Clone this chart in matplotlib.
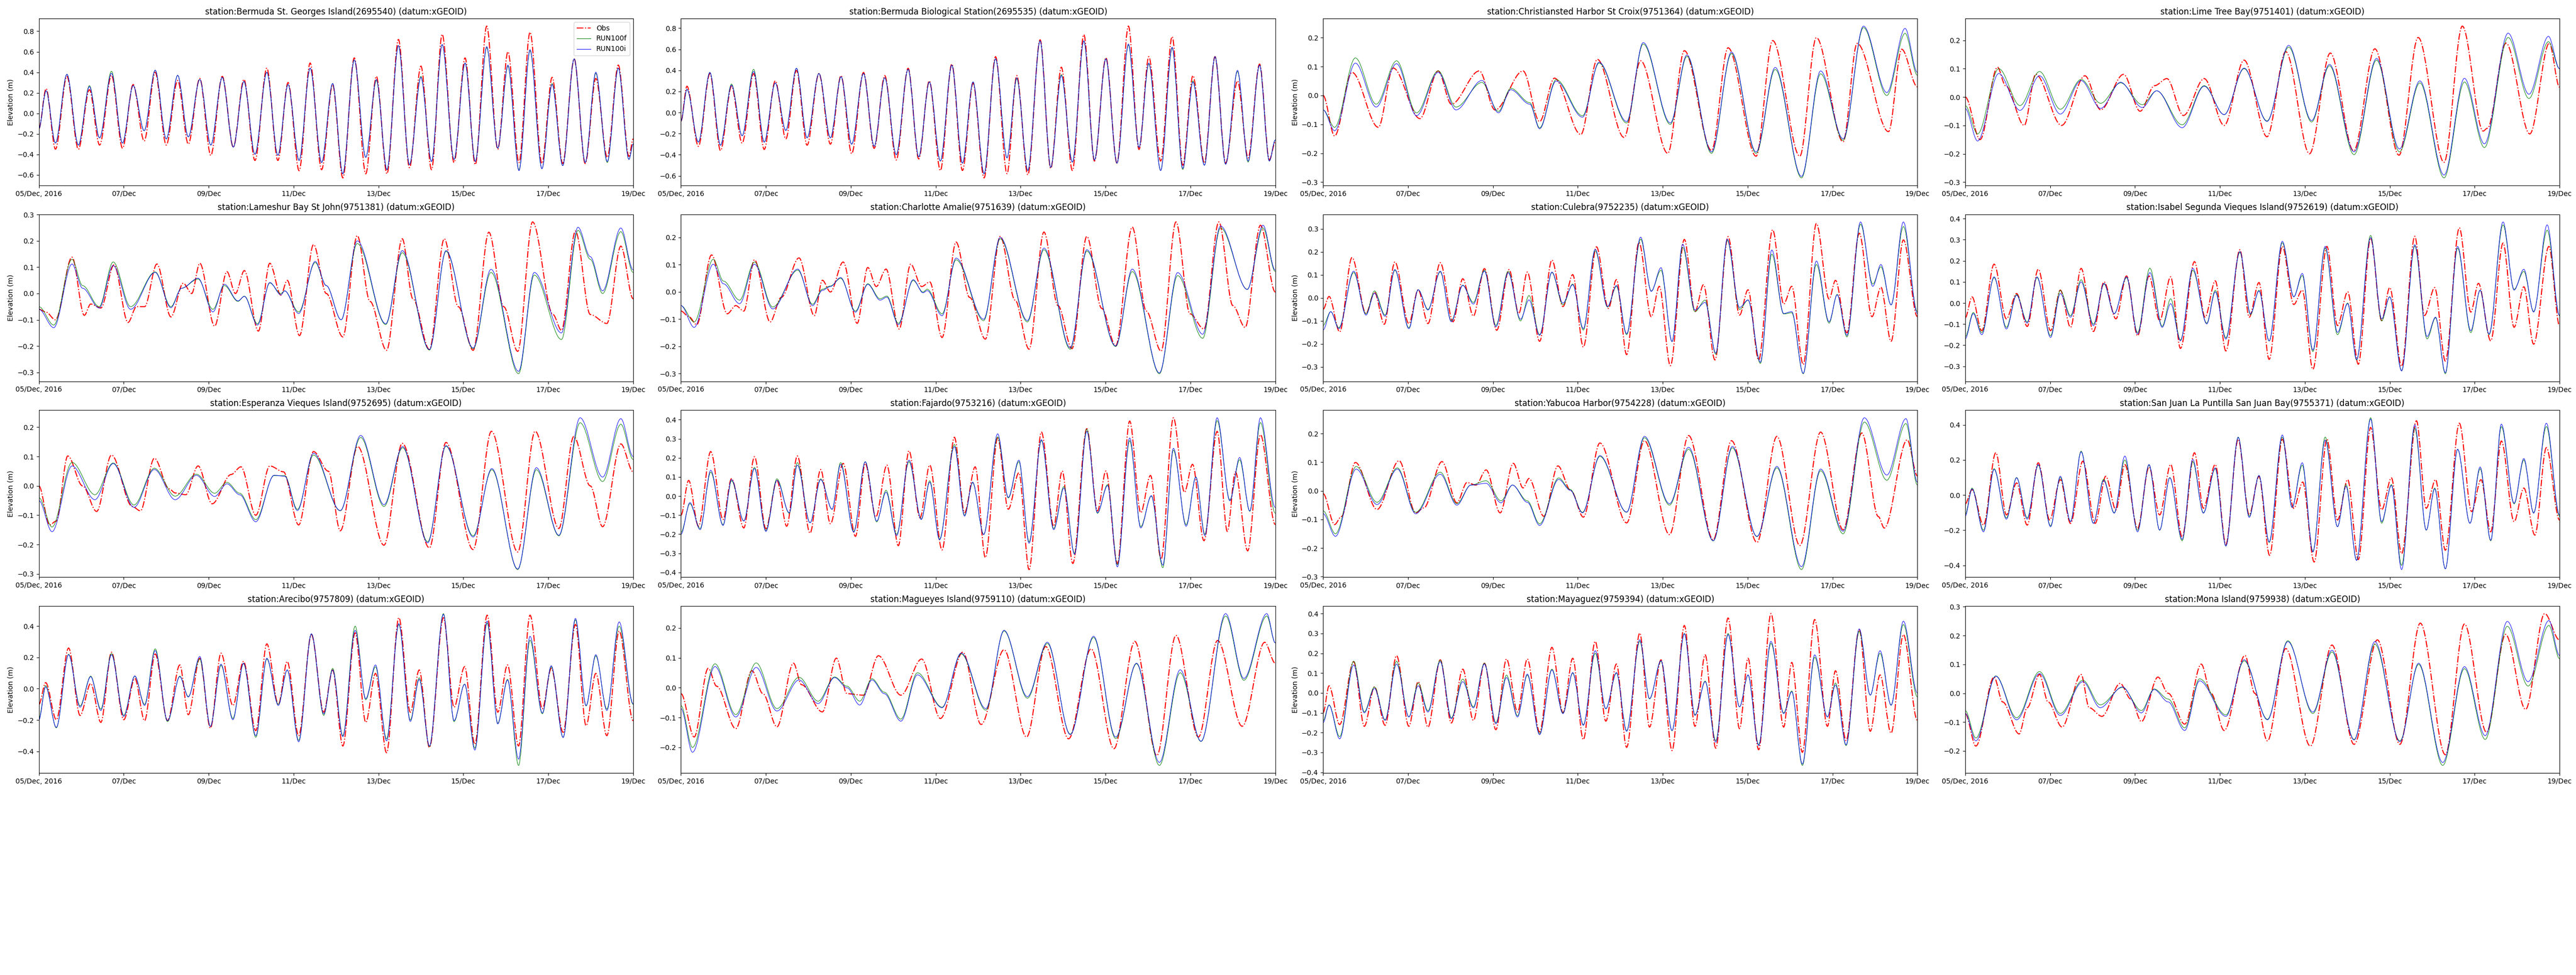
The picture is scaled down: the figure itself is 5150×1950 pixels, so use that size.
"""Water level comparison at 16 NOAA / Bermuda gauges, 05-19 Dec 2016: Obs vs RUN100f / RUN100i."""
import numpy as np, matplotlib
matplotlib.use("Agg")
import matplotlib.pyplot as plt
import matplotlib.dates as mdates
from matplotlib.ticker import FuncFormatter
from matplotlib.path import Path
from matplotlib.patches import PathPatch
from matplotlib.lines import Line2D

START = np.datetime64("2016-12-05T00:00")
END = np.datetime64("2016-12-19T00:00")

TITLES = [
    "station:Bermuda St. Georges Island(2695540) (datum:xGEOID)",
    "station:Bermuda Biological Station(2695535) (datum:xGEOID)",
    "station:Christiansted Harbor St Croix(9751364) (datum:xGEOID)",
    "station:Lime Tree Bay(9751401) (datum:xGEOID)",
    "station:Lameshur Bay St John(9751381) (datum:xGEOID)",
    "station:Charlotte Amalie(9751639) (datum:xGEOID)",
    "station:Culebra(9752235) (datum:xGEOID)",
    "station:Isabel Segunda Vieques Island(9752619) (datum:xGEOID)",
    "station:Esperanza Vieques Island(9752695) (datum:xGEOID)",
    "station:Fajardo(9753216) (datum:xGEOID)",
    "station:Yabucoa Harbor(9754228) (datum:xGEOID)",
    "station:San Juan La Puntilla San Juan Bay(9755371) (datum:xGEOID)",
    "station:Arecibo(9757809) (datum:xGEOID)",
    "station:Magueyes Island(9759110) (datum:xGEOID)",
    "station:Mayaguez(9759394) (datum:xGEOID)",
    "station:Mona Island(9759938) (datum:xGEOID)",
]

# turning points: time in days after 05/Dec 00:00, elevation in m
# --- Bermuda St. Georges
T_OBS_01 = [0, 0.17, 0.39, 0.66, 0.93, 1.19, 1.43, 1.71, 1.97, 2.22, 2.48, 2.74, 3.00, 3.27, 3.52, 3.79,
            4.05, 4.32, 4.58, 4.83, 5.09, 5.37, 5.63, 5.87, 6.13, 6.39, 6.66, 6.92, 7.16, 7.43, 7.70, 7.95,
            8.20, 8.47, 8.73, 9.00, 9.25, 9.50, 9.78, 10.04, 10.28, 10.55, 10.81, 11.05, 11.31, 11.57,
            11.85, 12.09, 12.34, 12.61, 12.87, 13.12, 13.39, 13.65, 13.90, 14.0]
OBS_01 = [-0.15, 0.24, -0.35, 0.36, -0.35, 0.23, -0.31, 0.37, -0.34, 0.28, -0.27, 0.40, -0.31, 0.32, -0.30,
          0.34, -0.41, 0.36, -0.33, 0.33, -0.46, 0.44, -0.46, 0.30, -0.56, 0.49, -0.55, 0.28, -0.63, 0.54,
          -0.59, 0.36, -0.59, 0.72, -0.53, 0.46, -0.55, 0.77, -0.48, 0.54, -0.50, 0.85, -0.35, 0.60, -0.48,
          0.79, -0.49, 0.35, -0.49, 0.53, -0.49, 0.34, -0.43, 0.47, -0.42, -0.25]
T_MOD_01 = T_OBS_01
F_01 = [-0.15, 0.22, -0.29, 0.38, -0.31, 0.27, -0.24, 0.41, -0.29, 0.27, -0.17, 0.42, -0.25, 0.37, -0.23,
        0.33, -0.31, 0.35, -0.33, 0.31, -0.40, 0.40, -0.41, 0.28, -0.46, 0.44, -0.48, 0.29, -0.59, 0.52,
        -0.43, 0.32, -0.55, 0.66, -0.50, 0.36, -0.47, 0.67, -0.45, 0.49, -0.47, 0.64, -0.34, 0.46, -0.55,
        0.61, -0.54, 0.29, -0.51, 0.53, -0.48, 0.39, -0.48, 0.44, -0.45, -0.30]
I_01 = [-0.15, 0.22, -0.29, 0.38, -0.31, 0.26, -0.24, 0.39, -0.29, 0.27, -0.17, 0.42, -0.25, 0.37, -0.23,
        0.33, -0.31, 0.35, -0.33, 0.31, -0.40, 0.40, -0.41, 0.28, -0.46, 0.44, -0.48, 0.29, -0.59, 0.52,
        -0.43, 0.33, -0.55, 0.66, -0.50, 0.35, -0.47, 0.67, -0.45, 0.49, -0.47, 0.65, -0.34, 0.47, -0.56,
        0.62, -0.54, 0.28, -0.51, 0.53, -0.48, 0.40, -0.47, 0.44, -0.45, -0.30]
# --- Bermuda Biological Station
T_OBS_02 = [0, 0.14, 0.41, 0.68, 0.93, 1.19, 1.44, 1.71, 1.96, 2.22, 2.47, 2.72, 2.97, 3.25, 3.52, 3.77,
            4.02, 4.30, 4.55, 4.80, 5.07, 5.35, 5.60, 5.85, 6.11, 6.38, 6.63, 6.88, 7.14, 7.41, 7.68, 7.91,
            8.17, 8.46, 8.71, 8.96, 9.22, 9.49, 9.74, 10.01, 10.27, 10.54, 10.79, 11.02, 11.30, 11.57,
            11.82, 12.06, 12.33, 12.58, 12.83, 13.11, 13.36, 13.63, 13.86, 14.0]
OBS_02 = [-0.08, 0.25, -0.32, 0.37, -0.36, 0.25, -0.29, 0.37, -0.35, 0.30, -0.25, 0.40, -0.31, 0.37, -0.30,
          0.35, -0.39, 0.38, -0.34, 0.35, -0.45, 0.42, -0.44, 0.30, -0.55, 0.46, -0.55, 0.28, -0.62, 0.53,
          -0.58, 0.35, -0.59, 0.69, -0.53, 0.43, -0.55, 0.74, -0.46, 0.52, -0.48, 0.82, -0.35, 0.53, -0.46,
          0.72, -0.50, 0.35, -0.48, 0.53, -0.48, 0.30, -0.43, 0.46, -0.45, -0.28]
T_MOD_02 = T_OBS_02
F_02 = [-0.08, 0.22, -0.28, 0.38, -0.31, 0.27, -0.22, 0.41, -0.28, 0.28, -0.17, 0.42, -0.24, 0.37, -0.24,
        0.34, -0.30, 0.37, -0.32, 0.33, -0.40, 0.41, -0.42, 0.29, -0.46, 0.45, -0.48, 0.29, -0.58, 0.51,
        -0.43, 0.32, -0.55, 0.68, -0.52, 0.36, -0.47, 0.68, -0.45, 0.51, -0.48, 0.64, -0.33, 0.46, -0.55,
        0.61, -0.54, 0.30, -0.50, 0.53, -0.49, 0.39, -0.47, 0.45, -0.46, -0.26]
I_02 = [-0.08, 0.22, -0.28, 0.38, -0.31, 0.26, -0.22, 0.39, -0.28, 0.28, -0.17, 0.42, -0.24, 0.37, -0.24,
        0.34, -0.30, 0.37, -0.32, 0.33, -0.40, 0.41, -0.42, 0.29, -0.46, 0.45, -0.48, 0.29, -0.58, 0.51,
        -0.43, 0.33, -0.55, 0.68, -0.52, 0.35, -0.47, 0.68, -0.45, 0.51, -0.48, 0.65, -0.33, 0.47, -0.55,
        0.62, -0.53, 0.29, -0.50, 0.53, -0.49, 0.40, -0.46, 0.45, -0.46, -0.26]
# --- Christiansted Harbor
T_OBS_03 = [0, 0.27, 0.68, 1.30, 1.65, 2.28, 2.71, 3.02, 3.68, 4.05, 4.71, 5.10, 5.45, 6.07, 6.46, 7.09,
            7.48, 8.12, 8.51, 9.15, 9.54, 10.20, 10.59, 11.23, 11.62, 12.25, 12.58, 13.32, 13.63, 14.0]
OBS_03 = [0.0, -0.14, 0.08, -0.11, 0.095, -0.08, 0.085, -0.03, 0.085, -0.05, 0.085, -0.09, 0.06, -0.135,
          0.125, -0.145, 0.12, -0.20, 0.155, -0.19, 0.165, -0.21, 0.19, -0.21, 0.20, -0.16, 0.18, -0.125,
          0.16, 0.03]
T_MOD_03 = [0, 0.27, 0.76, 1.25, 1.73, 2.20, 2.71, 3.13, 3.74, 4.13, 4.42, 4.87, 5.10, 5.49, 6.11, 6.50,
            7.15, 7.54, 8.18, 8.57, 9.15, 9.62, 10.20, 10.65, 11.27, 11.72, 12.25, 12.73, 13.28, 13.71, 14.0]
F_03 = [-0.05, -0.11, 0.13, -0.03, 0.12, -0.06, 0.085, -0.04, 0.045, -0.055, 0.025, -0.025, -0.112, 0.055,
        -0.07, 0.112, -0.095, 0.178, -0.10, 0.135, -0.20, 0.145, -0.20, 0.09, -0.285, 0.075, -0.155, 0.235,
        0.0, 0.215, 0.07]
I_03 = [-0.05, -0.122, 0.112, -0.04, 0.11, -0.07, 0.08, -0.05, 0.052, -0.06, 0.02, -0.03, -0.115, 0.05,
        -0.075, 0.115, -0.09, 0.183, -0.095, 0.14, -0.195, 0.15, -0.195, 0.097, -0.28, 0.085, -0.15, 0.24,
        0.01, 0.232, 0.08]
# --- Lime Tree Bay
T_OBS_04 = [0, 0.35, 0.76, 0.95, 1.39, 1.66, 2.27, 2.82, 3.19, 3.73, 4.12, 4.46, 4.75, 5.14, 5.63, 6.10,
            6.57, 7.11, 7.55, 8.11, 8.60, 9.15, 9.65, 10.22, 10.67, 11.28, 11.71, 12.20, 12.30, 12.74, 13.30,
            13.76, 14.0]
OBS_04 = [0.0, -0.15, 0.105, 0.04, -0.10, 0.08, -0.10, 0.075, -0.045, 0.08, -0.05, 0.04, 0.065, -0.065,
          0.065, -0.10, 0.13, -0.14, 0.16, -0.20, 0.155, -0.19, 0.17, -0.205, 0.21, -0.23, 0.25, -0.12,
          -0.11, 0.19, -0.13, 0.19, 0.035]
T_MOD_04 = [0, 0.29, 0.79, 1.29, 1.75, 2.24, 2.73, 3.19, 3.66, 4.17, 4.51, 5.11, 5.63, 6.10, 6.57, 7.11,
            7.62, 8.16, 8.58, 9.16, 9.69, 10.23, 10.71, 11.28, 11.76, 12.23, 12.79, 13.28, 13.74, 14.0]
F_04 = [-0.03, -0.13, 0.10, -0.03, 0.09, -0.043, 0.062, -0.022, 0.05, -0.027, 0.022, -0.098, 0.04, -0.062,
        0.10, -0.084, 0.176, -0.088, 0.11, -0.203, 0.13, -0.193, 0.05, -0.285, 0.053, -0.178, 0.21, -0.005,
        0.195, 0.10]
I_04 = [-0.04, -0.155, 0.083, -0.047, 0.075, -0.06, 0.058, -0.04, 0.052, -0.037, 0.022, -0.108, 0.038,
        -0.062, 0.102, -0.086, 0.182, -0.083, 0.115, -0.193, 0.136, -0.183, 0.057, -0.275, 0.066, -0.165,
        0.225, 0.01, 0.214, 0.10]
# --- Lameshur Bay
T_OBS_05 = [0, 0.16, 0.39, 0.78, 1.07, 1.22, 1.46, 1.77, 2.10, 2.30, 2.49, 2.78, 3.11, 3.40, 3.60, 3.79,
            4.14, 4.43, 4.63, 4.84, 5.17, 5.44, 5.70, 5.85, 6.14, 6.47, 6.77, 7.16, 7.50, 7.80, 8.19, 8.56,
            8.81, 9.20, 9.55, 9.88, 10.23, 10.60, 10.95, 11.28, 11.63, 12.11, 12.31, 12.64, 12.99, 13.38,
            13.71, 14.0]
OBS_05 = [-0.06, -0.07, -0.10, 0.138, -0.083, -0.04, -0.055, 0.109, -0.11, -0.05, -0.05, 0.112, -0.089,
          0.039, 0.0, 0.115, -0.124, 0.083, 0.0, 0.087, -0.143, 0.115, -0.006, 0.05, -0.16, 0.186, 0.0,
          -0.165, 0.22, -0.03, -0.216, 0.208, -0.02, -0.213, 0.208, -0.05, -0.216, 0.233, -0.05, -0.22,
          0.272, -0.08, -0.14, 0.237, -0.08, -0.114, 0.18, -0.02]
T_MOD_05 = [0, 0.35, 0.78, 1.03, 1.42, 1.75, 2.16, 2.74, 3.11, 3.36, 3.75, 4.10, 4.37, 4.69, 4.84, 5.15,
            5.44, 5.70, 5.79, 6.12, 6.51, 6.77, 7.12, 7.50, 8.17, 8.56, 9.20, 9.59, 10.23, 10.65, 11.30,
            11.67, 12.31, 12.70, 12.99, 13.28, 13.71, 14.0]
F_05 = [-0.05, -0.12, 0.13, 0.03, -0.05, 0.12, -0.05, 0.082, -0.05, 0.02, 0.055, -0.06, 0.03, -0.03, -0.01,
        -0.115, 0.04, 0.0, 0.01, -0.07, 0.118, 0.03, -0.10, 0.19, -0.118, 0.155, -0.215, 0.16, -0.21, 0.08,
        -0.305, 0.07, -0.175, 0.24, 0.13, 0.0, 0.235, 0.08]
I_05 = [-0.06, -0.13, 0.112, 0.02, -0.055, 0.106, -0.06, 0.08, -0.054, 0.02, 0.058, -0.07, 0.035, -0.028,
        -0.011, -0.12, 0.042, -0.005, 0.01, -0.076, 0.122, 0.03, -0.10, 0.20, -0.115, 0.163, -0.213, 0.163,
        -0.207, 0.092, -0.296, 0.08, -0.15, 0.252, 0.14, 0.01, 0.249, 0.09]
# --- Charlotte Amalie
T_OBS_06 = [0, 0.18, 0.37, 0.72, 1.09, 1.29, 1.48, 1.73, 2.10, 2.36, 2.78, 3.14, 3.33, 3.52, 3.82, 4.15,
            4.40, 4.60, 4.83, 5.14, 5.41, 5.67, 5.86, 6.15, 6.48, 6.80, 7.17, 7.52, 7.87, 8.20, 8.55, 8.88,
            9.21, 9.56, 9.91, 10.24, 10.63, 10.96, 11.31, 11.66, 11.99, 12.32, 12.67, 13.00, 13.29, 13.65,
            14.0]
OBS_06 = [-0.07, -0.09, -0.12, 0.136, -0.08, -0.05, -0.07, 0.118, -0.11, -0.02, 0.125, -0.087, 0.043, 0.0,
          0.11, -0.115, 0.09, 0.02, 0.084, -0.136, 0.102, 0.02, 0.037, -0.167, 0.183, -0.02, -0.173, 0.204,
          -0.03, -0.21, 0.22, -0.05, -0.208, 0.204, -0.06, -0.198, 0.238, -0.07, -0.217, 0.257, -0.08,
          -0.136, 0.257, -0.05, -0.13, 0.245, 0.0]
T_MOD_06 = [0, 0.31, 0.76, 1.00, 1.38, 1.73, 2.16, 2.75, 3.10, 3.33, 3.52, 3.76, 4.11, 4.40, 4.69, 4.85,
            5.12, 5.47, 5.70, 5.80, 6.15, 6.48, 7.13, 7.52, 8.16, 8.55, 9.17, 9.56, 10.24, 10.63, 11.27,
            11.70, 12.29, 12.71, 13.34, 13.71, 14.0]
F_06 = [-0.05, -0.11, 0.12, 0.04, -0.03, 0.11, -0.055, 0.08, -0.045, 0.01, 0.022, 0.05, -0.07, 0.03, -0.025,
        -0.015, -0.115, 0.042, 0.0, 0.01, -0.08, 0.118, -0.105, 0.195, -0.11, 0.155, -0.21, 0.15, -0.20,
        0.075, -0.30, 0.06, -0.17, 0.235, 0.01, 0.235, 0.075]
I_06 = [-0.05, -0.13, 0.102, 0.03, -0.043, 0.102, -0.062, 0.084, -0.05, 0.006, 0.02, 0.053, -0.074, 0.028,
        -0.03, -0.019, -0.12, 0.045, -0.003, 0.005, -0.087, 0.124, -0.10, 0.20, -0.105, 0.161, -0.205,
        0.155, -0.198, 0.084, -0.297, 0.071, -0.155, 0.242, 0.009, 0.245, 0.08]
# --- Culebra
T_OBS_07 = [0, 0.14, 0.39, 0.68, 1.01, 1.21, 1.44, 1.69, 2.02, 2.24, 2.47, 2.76, 3.06, 3.29, 3.54, 3.80,
            4.09, 4.38, 4.61, 4.81, 5.10, 5.39, 5.65, 5.88, 6.13, 6.44, 6.72, 6.91, 7.15, 7.44, 7.73, 7.92,
            8.18, 8.51, 8.76, 8.96, 9.23, 9.54, 9.81, 10.01, 10.26, 10.59, 10.85, 11.04, 11.31, 11.62, 11.92,
            12.07, 12.34, 12.63, 12.93, 13.14, 13.38, 13.67, 14.0]
OBS_07 = [-0.05, 0.006, -0.148, 0.175, -0.068, 0.024, -0.115, 0.156, -0.112, 0.035, -0.112, 0.153, -0.104,
          0.083, -0.079, 0.127, -0.141, 0.123, -0.068, 0.112, -0.189, 0.164, -0.038, 0.101, -0.214, 0.222,
          -0.046, 0.079, -0.247, 0.241, -0.082, 0.05, -0.295, 0.254, -0.06, 0.057, -0.27, 0.266, -0.075,
          0.035, -0.27, 0.296, -0.027, 0.05, -0.29, 0.323, -0.005, 0.076, -0.152, 0.281, -0.082, 0.046,
          -0.189, 0.252, -0.082]
T_MOD_07 = [0, 0.18, 0.37, 0.72, 1.01, 1.21, 1.46, 1.69, 2.02, 2.24, 2.47, 2.76, 3.02, 3.29, 3.54, 3.80,
            4.07, 4.36, 4.65, 4.85, 5.10, 5.39, 5.65, 5.88, 6.13, 6.41, 6.70, 6.91, 7.15, 7.48, 7.73, 7.96,
            8.22, 8.47, 8.76, 9.00, 9.25, 9.52, 9.81, 10.01, 10.30, 10.57, 10.85, 11.04, 11.31, 11.62, 11.92,
            12.11, 12.34, 12.66, 12.95, 13.14, 13.38, 13.67, 14.0]
F_07 = [-0.12, -0.06, -0.13, 0.11, -0.07, 0.03, -0.075, 0.12, -0.13, 0.035, -0.05, 0.113, -0.10, 0.055,
        -0.02, 0.12, -0.12, 0.115, -0.10, 0.01, -0.16, 0.11, -0.03, 0.06, -0.14, 0.205, -0.04, 0.05, -0.16,
        0.255, 0.03, 0.12, -0.19, 0.22, -0.06, -0.01, -0.245, 0.25, -0.05, -0.01, -0.285, 0.19, -0.07,
        -0.065, -0.33, 0.145, -0.11, 0.015, -0.17, 0.32, 0.06, 0.135, -0.03, 0.31, -0.06]
I_07 = [-0.14, -0.06, -0.134, 0.116, -0.075, 0.02, -0.08, 0.123, -0.134, 0.035, -0.053, 0.116, -0.104,
        0.054, -0.027, 0.116, -0.126, 0.109, -0.093, -0.009, -0.163, 0.112, -0.023, 0.057, -0.134, 0.211,
        -0.038, 0.054, -0.156, 0.264, 0.028, 0.131, -0.19, 0.233, -0.053, -0.02, -0.24, 0.255, -0.042,
        -0.009, -0.28, 0.208, -0.068, -0.06, -0.328, 0.16, -0.104, 0.013, -0.163, 0.33, 0.05, 0.145,
        -0.031, 0.33, -0.068]
# --- Isabel Segunda
T_OBS_08 = [0, 0.16, 0.39, 0.68, 0.97, 1.21, 1.46, 1.72, 2.01, 2.24, 2.48, 2.73, 3.02, 3.27, 3.55, 3.80,
            4.06, 4.33, 4.58, 4.84, 5.07, 5.40, 5.65, 5.89, 6.14, 6.47, 6.69, 6.92, 7.16, 7.47, 7.74, 7.94,
            8.19, 8.52, 8.77, 9.01, 9.26, 9.55, 9.81, 10.00, 10.28, 10.59, 10.82, 11.06, 11.31, 11.64, 11.91,
            12.09, 12.38, 12.67, 12.93, 13.16, 13.39, 13.75, 14.0]
OBS_08 = [-0.07, 0.029, -0.131, 0.184, -0.075, 0.045, -0.111, 0.16, -0.131, 0.061, -0.115, 0.164, -0.135,
          0.10, -0.075, 0.128, -0.155, 0.128, -0.083, 0.124, -0.215, 0.196, -0.067, 0.105, -0.227, 0.252,
          -0.067, 0.097, -0.267, 0.268, -0.007, 0.061, -0.314, 0.268, -0.107, 0.053, -0.29, 0.308, -0.083,
          0.073, -0.30, 0.316, -0.059, 0.073, -0.275, 0.356, -0.043, 0.093, -0.179, 0.284, -0.115, 0.077,
          -0.195, 0.268, -0.107]
T_MOD_08 = [0, 0.19, 0.39, 0.68, 0.97, 1.21, 1.46, 1.69, 2.01, 2.24, 2.48, 2.73, 3.02, 3.27, 3.51, 3.80,
            4.06, 4.35, 4.64, 4.84, 5.07, 5.36, 5.69, 5.89, 6.14, 6.47, 6.72, 6.92, 7.16, 7.47, 7.74, 7.94,
            8.19, 8.48, 8.77, 9.01, 9.22, 9.55, 9.81, 10.00, 10.28, 10.59, 10.88, 11.08, 11.31, 11.60, 11.91,
            12.13, 12.34, 12.67, 12.93, 13.16, 13.39, 13.71, 14.0]
F_08 = [-0.16, -0.045, -0.14, 0.12, -0.115, 0.04, -0.09, 0.12, -0.155, 0.06, -0.06, 0.11, -0.10, 0.09,
        -0.05, 0.12, -0.14, 0.165, -0.11, 0.02, -0.175, 0.155, -0.095, 0.06, -0.165, 0.24, -0.055, 0.06,
        -0.18, 0.285, 0.03, 0.13, -0.23, 0.26, -0.15, 0.0, -0.27, 0.32, -0.085, 0.03, -0.32, 0.27, -0.17,
        -0.07, -0.335, 0.26, -0.14, 0.06, -0.15, 0.37, 0.065, 0.15, -0.04, 0.345, -0.06]
I_08 = [-0.17, -0.05, -0.15, 0.124, -0.123, 0.037, -0.095, 0.124, -0.163, 0.045, -0.067, 0.10, -0.107,
        0.093, -0.051, 0.124, -0.147, 0.144, -0.115, -0.003, -0.179, 0.164, -0.099, 0.053, -0.171, 0.244,
        -0.051, 0.057, -0.179, 0.292, 0.029, 0.14, -0.223, 0.268, -0.139, -0.003, -0.267, 0.31, -0.075,
        0.029, -0.322, 0.276, -0.159, -0.067, -0.33, 0.268, -0.131, 0.061, -0.147, 0.384, 0.061, 0.16,
        -0.043, 0.37, -0.059]
# --- Esperanza
T_OBS_09 = [0, 0.25, 0.41, 0.68, 1.03, 1.36, 1.71, 2.20, 2.39, 2.72, 3.07, 3.21, 3.46, 3.75, 4.08, 4.53,
            4.76, 5.11, 5.44, 5.76, 6.12, 6.47, 6.82, 7.10, 7.51, 8.13, 8.56, 9.20, 9.59, 10.23, 10.66, 11.28,
            11.69, 12.25, 12.60, 12.99, 13.28, 13.71, 14.0]
OBS_09 = [0.0, -0.133, -0.12, 0.102, 0.0, -0.087, 0.105, -0.07, -0.085, 0.094, -0.01, -0.024, -0.03, 0.068,
          -0.061, 0.039, 0.065, -0.10, 0.068, 0.048, -0.133, 0.117, 0.05, -0.153, 0.134, -0.202, 0.145,
          -0.211, 0.148, -0.217, 0.186, -0.225, 0.186, -0.145, 0.168, 0.0, -0.139, 0.143, 0.048]
T_MOD_09 = [0, 0.31, 0.78, 1.32, 1.75, 2.24, 2.72, 3.21, 3.71, 4.14, 4.43, 4.73, 5.11, 5.54, 5.79, 6.09,
            6.47, 7.10, 7.58, 8.13, 8.57, 9.16, 9.59, 10.23, 10.67, 11.28, 11.72, 12.25, 12.75, 13.28, 13.71,
            14.0]
F_09 = [-0.04, -0.14, 0.08, -0.03, 0.078, -0.065, 0.06, -0.035, 0.04, -0.025, 0.012, -0.025, -0.115, 0.035,
        0.035, -0.08, 0.105, -0.085, 0.165, -0.07, 0.13, -0.19, 0.135, -0.17, 0.055, -0.285, 0.055, -0.17,
        0.215, 0.015, 0.21, 0.09]
I_09 = [-0.05, -0.156, 0.068, -0.047, 0.076, -0.073, 0.056, -0.047, 0.036, -0.036, 0.007, -0.03, -0.122,
        0.036, 0.033, -0.084, 0.111, -0.084, 0.172, -0.064, 0.134, -0.194, 0.137, -0.174, 0.059, -0.283,
        0.062, -0.168, 0.232, 0.03, 0.229, 0.10]
# --- Fajardo
T_OBS_10 = [0, 0.18, 0.41, 0.70, 0.99, 1.19, 1.48, 1.73, 2.00, 2.26, 2.49, 2.74, 3.04, 3.29, 3.52, 3.82,
            4.11, 4.34, 4.59, 4.85, 5.12, 5.37, 5.63, 5.86, 6.15, 6.44, 6.68, 6.93, 7.17, 7.46, 7.71, 7.96,
            8.20, 8.49, 8.78, 8.98, 9.23, 9.56, 9.81, 10.01, 10.28, 10.57, 10.83, 11.06, 11.31, 11.60, 11.86,
            12.05, 12.32, 12.63, 12.87, 13.06, 13.35, 13.65, 14.0]
OBS_10 = [-0.1, 0.082, -0.158, 0.233, -0.123, 0.091, -0.167, 0.206, -0.171, 0.082, -0.158, 0.21, -0.194,
          0.139, -0.145, 0.171, -0.211, 0.171, -0.109, 0.162, -0.26, 0.237, -0.114, 0.162, -0.282, 0.308,
          -0.087, 0.153, -0.322, 0.304, -0.069, 0.122, -0.385, 0.335, -0.158, 0.131, -0.353, 0.353, -0.078,
          0.131, -0.353, 0.393, -0.087, 0.108, -0.331, 0.41, 0.02, 0.166, -0.234, 0.339, -0.185, 0.126,
          -0.287, 0.321, -0.149]
T_MOD_10 = [0, 0.21, 0.45, 0.70, 0.99, 1.19, 1.48, 1.73, 2.00, 2.26, 2.55, 2.74, 3.04, 3.29, 3.56, 3.76,
            4.07, 4.34, 4.61, 4.83, 5.08, 5.37, 5.66, 5.86, 6.09, 6.44, 6.68, 6.87, 7.13, 7.46, 7.71, 7.96,
            8.20, 8.49, 8.78, 9.02, 9.27, 9.56, 9.81, 10.05, 10.28, 10.57, 10.83, 11.08, 11.35, 11.60, 11.90,
            12.13, 12.34, 12.63, 12.93, 13.16, 13.40, 13.65, 14.0]
F_10 = [-0.19, -0.04, -0.17, 0.125, -0.15, 0.08, -0.13, 0.15, -0.18, 0.09, -0.09, 0.175, -0.14, 0.09, -0.07,
        0.175, -0.185, 0.18, -0.135, 0.03, -0.2, 0.18, -0.12, 0.08, -0.225, 0.27, -0.1, 0.07, -0.2, 0.31,
        -0.01, 0.18, -0.24, 0.29, -0.17, 0.05, -0.3, 0.35, -0.09, 0.06, -0.36, 0.29, -0.16, 0.0, -0.375,
        0.24, -0.15, 0.1, -0.2, 0.395, -0.02, 0.19, -0.08, 0.385, -0.09]
I_10 = [-0.2, -0.034, -0.176, 0.135, -0.154, 0.086, -0.131, 0.144, -0.185, 0.082, -0.087, 0.162, -0.14,
        0.086, -0.069, 0.166, -0.189, 0.179, -0.131, 0.02, -0.207, 0.188, -0.123, 0.073, -0.229, 0.259,
        -0.105, 0.073, -0.202, 0.326, -0.007, 0.188, -0.247, 0.295, -0.176, 0.042, -0.305, 0.339, -0.087,
        0.055, -0.371, 0.304, -0.167, 0.002, -0.362, 0.25, -0.158, 0.099, -0.207, 0.41, -0.025, 0.202,
        -0.078, 0.41, -0.06]
# --- Yabucoa Harbor
T_OBS_11 = [0, 0.27, 0.43, 0.76, 1.27, 1.79, 2.18, 2.37, 2.80, 3.15, 3.39, 3.60, 3.84, 4.17, 4.48, 4.71,
            4.85, 5.20, 5.53, 5.84, 6.13, 6.52, 7.15, 7.57, 8.16, 8.61, 9.19, 9.62, 10.22, 10.69, 11.23,
            11.72, 12.25, 12.69, 13.08, 13.22, 13.76, 14.0]
OBS_11 = [-0.01, -0.118, -0.09, 0.099, -0.065, 0.105, -0.077, -0.06, 0.102, -0.042, 0.029, 0.02, 0.073,
          -0.077, 0.096, 0.01, 0.043, -0.089, 0.087, 0.0, -0.092, 0.167, -0.112, 0.175, -0.153, 0.193,
          -0.171, 0.175, -0.18, 0.19, -0.191, 0.205, -0.136, 0.202, -0.09, -0.13, 0.178, 0.052]
T_MOD_11 = [0, 0.29, 0.78, 1.27, 1.75, 2.18, 2.76, 3.15, 3.48, 3.84, 4.19, 4.46, 4.81, 5.10, 5.55, 5.82,
            6.11, 6.52, 7.15, 7.57, 8.16, 8.61, 9.19, 9.64, 10.22, 10.69, 11.27, 11.72, 12.25, 12.75, 13.28,
            13.73, 14.0]
F_11 = [-0.07, -0.15, 0.085, -0.04, 0.08, -0.075, 0.065, -0.045, 0.02, 0.035, -0.035, 0.02, -0.035, -0.115,
        0.045, 0.005, -0.075, 0.12, -0.075, 0.185, -0.05, 0.145, -0.175, 0.15, -0.16, 0.08, -0.275, 0.07,
        -0.15, 0.24, 0.037, 0.235, 0.02]
I_11 = [-0.08, -0.159, 0.076, -0.048, 0.076, -0.08, 0.058, -0.05, 0.02, 0.026, -0.042, 0.02, -0.04, -0.121,
        0.04, 0.002, -0.077, 0.123, -0.074, 0.19, -0.045, 0.152, -0.174, 0.155, -0.159, 0.085, -0.265,
        0.076, -0.141, 0.255, 0.055, 0.252, 0.03]
# --- San Juan
T_OBS_12 = [0, 0.16, 0.43, 0.72, 0.97, 1.21, 1.46, 1.72, 1.99, 2.24, 2.48, 2.77, 3.06, 3.31, 3.55, 3.76,
            4.06, 4.33, 4.58, 4.84, 5.11, 5.40, 5.61, 5.89, 6.14, 6.43, 6.69, 6.92, 7.17, 7.47, 7.74, 7.95,
            8.22, 8.52, 8.77, 9.01, 9.26, 9.55, 9.81, 10.04, 10.28, 10.63, 10.86, 11.08, 11.31, 11.64, 11.93,
            12.15, 12.38, 12.63, 12.93, 13.16, 13.42, 13.69, 14.0]
OBS_12 = [-0.05, 0.031, -0.171, 0.241, -0.113, 0.069, -0.171, 0.184, -0.142, 0.088, -0.161, 0.193, -0.161,
          0.107, -0.084, 0.174, -0.19, 0.16, -0.113, 0.174, -0.238, 0.241, -0.075, 0.174, -0.281, 0.318,
          -0.113, 0.107, -0.343, 0.318, -0.075, 0.074, -0.381, 0.318, -0.142, 0.088, -0.367, 0.385, -0.084,
          0.098, -0.333, 0.423, -0.075, 0.088, -0.314, 0.409, -0.094, 0.088, -0.209, 0.308, -0.151, 0.04,
          -0.228, 0.27, -0.142]
T_MOD_12 = [0, 0.16, 0.43, 0.68, 0.97, 1.21, 1.46, 1.72, 2.01, 2.24, 2.48, 2.73, 3.02, 3.26, 3.51, 3.76,
            4.06, 4.33, 4.58, 4.82, 5.11, 5.36, 5.61, 5.89, 6.14, 6.43, 6.69, 6.92, 7.16, 7.47, 7.70, 7.94,
            8.19, 8.48, 8.77, 8.97, 9.22, 9.55, 9.81, 10.04, 10.28, 10.59, 10.86, 11.06, 11.31, 11.60, 11.89,
            12.13, 12.38, 12.63, 12.93, 13.16, 13.39, 13.69, 14.0]
F_12 = [-0.11, 0.04, -0.2, 0.15, -0.13, 0.1, -0.13, 0.17, -0.175, 0.1, -0.15, 0.25, -0.16, 0.09, -0.1, 0.2,
        -0.2, 0.17, -0.2, 0.1, -0.26, 0.19, -0.1, 0.15, -0.29, 0.33, -0.12, 0.11, -0.27, 0.33, -0.07, 0.17,
        -0.32, 0.33, -0.18, 0.06, -0.37, 0.44, -0.16, 0.06, -0.4, 0.38, -0.2, 0.04, -0.42, 0.26, -0.16, 0.15,
        -0.26, 0.39, -0.05, 0.2, -0.1, 0.39, -0.12]
I_12 = [-0.12, 0.035, -0.209, 0.146, -0.137, 0.098, -0.137, 0.174, -0.18, 0.107, -0.151, 0.246, -0.161,
        0.083, -0.103, 0.222, -0.209, 0.174, -0.199, 0.098, -0.252, 0.203, -0.103, 0.155, -0.29, 0.328,
        -0.127, 0.112, -0.266, 0.342, -0.07, 0.184, -0.324, 0.313, -0.18, 0.05, -0.372, 0.433, -0.151,
        0.055, -0.424, 0.40, -0.199, 0.035, -0.42, 0.261, -0.161, 0.16, -0.257, 0.404, -0.046, 0.208,
        -0.103, 0.409, -0.113]
# --- Arecibo
T_MOD_13 = [0, 0.16, 0.41, 0.70, 0.97, 1.22, 1.46, 1.71, 2.00, 2.26, 2.49, 2.74, 3.03, 3.32, 3.52, 3.79,
            4.04, 4.29, 4.57, 4.82, 5.11, 5.37, 5.64, 5.85, 6.12, 6.42, 6.71, 6.92, 7.16, 7.45, 7.70, 7.93,
            8.19, 8.48, 8.75, 8.96, 9.20, 9.53, 9.78, 10.03, 10.27, 10.56, 10.81, 11.04, 11.30, 11.57, 11.86,
            12.07, 12.35, 12.64, 12.89, 13.12, 13.38, 13.67, 14.0]
T_OBS_13 = T_MOD_13
OBS_13 = [-0.1, 0.039, -0.198, 0.26, -0.171, 0.033, -0.215, 0.233, -0.198, 0.066, -0.204, 0.222, -0.204,
          0.152, -0.166, 0.195, -0.252, 0.227, -0.107, 0.174, -0.268, 0.287, -0.101, 0.174, -0.30, 0.346,
          -0.15, 0.12, -0.366, 0.357, -0.215, 0.098, -0.409, 0.454, -0.15, 0.12, -0.376, 0.454, -0.118,
          0.141, -0.355, 0.47, -0.15, 0.152, -0.366, 0.47, -0.128, 0.13, -0.279, 0.411, -0.236, 0.098,
          -0.30, 0.368, -0.204]
F_13 = [-0.19, 0.02, -0.25, 0.22, -0.11, 0.08, -0.13, 0.225, -0.17, 0.08, -0.1, 0.255, -0.21, 0.08, -0.05,
        0.19, -0.24, 0.15, -0.19, 0.16, -0.31, 0.19, -0.1, 0.12, -0.33, 0.35, -0.17, 0.13, -0.3, 0.40, -0.07,
        0.14, -0.32, 0.41, -0.2, 0.07, -0.37, 0.48, -0.21, 0.03, -0.38, 0.42, -0.22, 0.06, -0.49, 0.31,
        -0.16, 0.14, -0.31, 0.44, -0.11, 0.21, -0.13, 0.40, -0.1]
I_13 = [-0.2, 0.012, -0.247, 0.217, -0.118, 0.077, -0.139, 0.217, -0.177, 0.082, -0.107, 0.244, -0.204,
        0.077, -0.053, 0.206, -0.242, 0.157, -0.198, 0.163, -0.30, 0.195, -0.107, 0.12, -0.339, 0.351,
        -0.161, 0.12, -0.306, 0.373, -0.064, 0.152, -0.333, 0.416, -0.209, 0.06, -0.366, 0.475, -0.204,
        0.028, -0.392, 0.432, -0.225, 0.055, -0.45, 0.335, -0.155, 0.147, -0.312, 0.449, -0.107, 0.217,
        -0.139, 0.427, -0.096]
# --- Magueyes Island
T_OBS_14 = [0, 0.31, 0.64, 0.84, 1.29, 1.67, 1.93, 2.26, 2.65, 2.84, 3.33, 3.66, 3.91, 4.30, 4.65, 5.18,
            5.67, 6.11, 6.64, 7.07, 7.61, 8.14, 8.59, 9.13, 9.66, 10.20, 10.69, 11.21, 11.66, 12.19, 12.64,
            13.22, 13.75, 14.0]
OBS_14 = [-0.02, -0.165, 0.065, 0.005, -0.137, 0.057, -0.02, -0.131, 0.082, 0.01, -0.081, 0.099, -0.02,
          -0.025, 0.107, -0.025, 0.096, -0.103, 0.119, -0.123, 0.127, -0.165, 0.138, -0.171, 0.13, -0.204,
          0.155, -0.227, 0.175, -0.165, 0.158, -0.129, 0.152, 0.082]
T_MOD_14 = [0, 0.27, 0.80, 1.29, 1.77, 2.26, 2.78, 3.23, 3.62, 3.91, 4.21, 4.50, 4.79, 5.18, 5.57, 6.15,
            6.60, 7.18, 7.61, 8.16, 8.63, 9.17, 9.72, 10.24, 10.73, 11.27, 11.76, 12.25, 12.83, 13.26, 13.80,
            14.0]
F_14 = [-0.06, -0.2, 0.08, -0.09, 0.083, -0.07, 0.035, -0.045, 0.036, 0.005, -0.045, 0.03, -0.015, -0.105,
        0.05, -0.065, 0.113, -0.075, 0.19, -0.035, 0.148, -0.155, 0.168, -0.17, 0.08, -0.26, 0.05, -0.18,
        0.24, 0.025, 0.24, 0.15]
I_14 = [-0.07, -0.216, 0.071, -0.098, 0.068, -0.078, 0.026, -0.053, 0.034, 0.0, -0.058, 0.026, -0.02,
        -0.112, 0.043, -0.067, 0.116, -0.07, 0.192, -0.03, 0.152, -0.157, 0.172, -0.165, 0.082, -0.25, 0.06,
        -0.179, 0.248, 0.031, 0.248, 0.15]
# --- Mayaguez
T_MOD_15 = [0, 0.14, 0.39, 0.72, 0.97, 1.21, 1.46, 1.73, 2.02, 2.24, 2.47, 2.76, 3.02, 3.29, 3.54, 3.80,
            4.07, 4.32, 4.58, 4.81, 5.10, 5.39, 5.65, 5.88, 6.13, 6.41, 6.66, 6.91, 7.15, 7.46, 7.69, 7.96,
            8.22, 8.51, 8.76, 9.00, 9.25, 9.54, 9.81, 10.01, 10.26, 10.55, 10.85, 11.04, 11.29, 11.58, 11.88,
            12.07, 12.32, 12.63, 12.89, 13.12, 13.38, 13.67, 14.0]
T_OBS_15 = T_MOD_15
OBS_15 = [-0.1, 0.036, -0.159, 0.158, -0.168, 0.031, -0.163, 0.188, -0.168, 0.057, -0.172, 0.167, -0.151,
          0.12, -0.138, 0.15, -0.185, 0.171, -0.096, 0.171, -0.197, 0.23, -0.10, 0.175, -0.235, 0.26, -0.142,
          0.146, -0.274, 0.302, -0.172, 0.167, -0.29, 0.34, -0.168, 0.192, -0.278, 0.378, -0.18, 0.175,
          -0.286, 0.40, -0.172, 0.154, -0.299, 0.37, -0.168, 0.112, -0.24, 0.319, -0.193, 0.091, -0.202,
          0.294, -0.138]
F_15 = [-0.14, -0.06, -0.22, 0.16, -0.095, 0.03, -0.135, 0.16, -0.12, 0.05, -0.09, 0.165, -0.125, 0.07,
        -0.07, 0.15, -0.15, 0.09, -0.115, 0.09, -0.205, 0.12, -0.1, 0.1, -0.16, 0.2, -0.08, 0.1, -0.19, 0.26,
        -0.03, 0.16, -0.19, 0.3, -0.11, 0.06, -0.24, 0.3, -0.07, 0.09, -0.26, 0.25, -0.1, 0.01, -0.365, 0.18,
        -0.12, 0.05, -0.265, 0.31, -0.01, 0.2, -0.06, 0.345, -0.02]
I_15 = [-0.15, -0.062, -0.231, 0.141, -0.10, 0.023, -0.138, 0.146, -0.121, 0.036, -0.096, 0.158, -0.13,
        0.057, -0.075, 0.146, -0.155, 0.078, -0.121, 0.095, -0.21, 0.116, -0.104, 0.103, -0.163, 0.213,
        -0.079, 0.103, -0.193, 0.268, -0.028, 0.163, -0.189, 0.298, -0.113, 0.057, -0.248, 0.294, -0.07,
        0.091, -0.265, 0.26, -0.104, 0.006, -0.358, 0.192, -0.121, 0.04, -0.261, 0.323, -0.011, 0.213,
        -0.062, 0.362, 0.0]
# --- Mona Island
T_OBS_16 = [0, 0.25, 0.68, 0.88, 1.27, 1.46, 1.75, 1.95, 2.28, 2.73, 2.92, 3.22, 3.65, 3.90, 4.15, 4.54,
            4.78, 5.17, 5.56, 5.79, 6.10, 6.59, 6.82, 7.12, 7.55, 8.13, 8.64, 9.16, 9.71, 10.24, 10.72, 11.31,
            11.76, 12.28, 12.73, 13.20, 13.65, 14.0]
OBS_16 = [-0.07, -0.183, 0.056, -0.03, -0.141, -0.05, 0.065, -0.03, -0.117, 0.065, -0.05, -0.08, 0.034,
          -0.02, -0.098, 0.056, 0.0, -0.107, 0.101, 0.0, -0.129, 0.131, 0.0, -0.165, 0.155, -0.183, 0.167,
          -0.177, 0.185, -0.177, 0.243, -0.213, 0.24, -0.135, 0.204, -0.056, 0.276, 0.185]
T_MOD_16 = [0, 0.25, 0.72, 1.21, 1.75, 2.24, 2.77, 3.18, 3.70, 4.15, 4.45, 4.78, 5.17, 5.52, 6.14, 6.57,
            7.12, 7.60, 8.19, 8.64, 9.16, 9.65, 10.24, 10.68, 11.25, 11.76, 12.25, 12.77, 13.26, 13.75, 14.0]
F_16 = [-0.06, -0.155, 0.06, -0.085, 0.075, -0.07, 0.045, -0.04, 0.02, -0.06, 0.015, -0.02, -0.12, 0.05,
        -0.075, 0.112, -0.09, 0.182, -0.07, 0.143, -0.16, 0.17, -0.165, 0.1, -0.25, 0.085, -0.16, 0.232,
        0.025, 0.235, 0.12]
I_16 = [-0.07, -0.165, 0.059, -0.092, 0.068, -0.077, 0.04, -0.05, 0.022, -0.068, 0.013, -0.03, -0.129,
        0.043, -0.08, 0.116, -0.092, 0.179, -0.065, 0.149, -0.162, 0.179, -0.168, 0.104, -0.24, 0.092,
        -0.147, 0.249, 0.04, 0.252, 0.131]

T_OBS = [T_OBS_01, T_OBS_02, T_OBS_03, T_OBS_04, T_OBS_05, T_OBS_06, T_OBS_07, T_OBS_08,
         T_OBS_09, T_OBS_10, T_OBS_11, T_OBS_12, T_OBS_13, T_OBS_14, T_OBS_15, T_OBS_16]
OBS = [OBS_01, OBS_02, OBS_03, OBS_04, OBS_05, OBS_06, OBS_07, OBS_08,
       OBS_09, OBS_10, OBS_11, OBS_12, OBS_13, OBS_14, OBS_15, OBS_16]
T_MOD = [T_MOD_01, T_MOD_02, T_MOD_03, T_MOD_04, T_MOD_05, T_MOD_06, T_MOD_07, T_MOD_08,
         T_MOD_09, T_MOD_10, T_MOD_11, T_MOD_12, T_MOD_13, T_MOD_14, T_MOD_15, T_MOD_16]
RUN100F = [F_01, F_02, F_03, F_04, F_05, F_06, F_07, F_08, F_09, F_10, F_11, F_12, F_13, F_14, F_15, F_16]
RUN100I = [I_01, I_02, I_03, I_04, I_05, I_06, I_07, I_08, I_09, I_10, I_11, I_12, I_13, I_14, I_15, I_16]


def to_num(days):
    t = START + (np.asarray(days) * 86400).round().astype("timedelta64[s]")
    return mdates.date2num(t)


def tide_path(days, vals):
    # smooth curve through the turning points: flat tangent at every read extremum
    x, y = to_num(days), list(vals)
    verts, codes = [(x[0], y[0])], [Path.MOVETO]
    for x0, y0, x1, y1 in zip(x[:-1], y[:-1], x[1:], y[1:]):
        dx = (x1 - x0) / 3.0
        verts += [(x0 + dx, y0), (x1 - dx, y1), (x1, y1)]
        codes += [Path.CURVE4] * 3
    return Path(verts, codes)


def date_fmt(x, pos):
    d = mdates.num2date(x)
    return d.strftime("%d/%b, %Y") if pos == 0 else d.strftime("%d/%b")


STYLE = [dict(edgecolor="r", lw=1.5, linestyle="-.", label="Obs"),
         dict(edgecolor="g", lw=0.7, linestyle="-", label="RUN100f"),
         dict(edgecolor="b", lw=0.7, linestyle="-", label="RUN100i")]

fig = plt.figure(figsize=(51.5, 19.5), dpi=100)
gs = fig.add_gridspec(4, 4, left=0.0151, right=0.9936, top=0.981, bottom=0.2072,
                      wspace=0.0805, hspace=0.173)

for k in range(16):
    ax = fig.add_subplot(gs[k // 4, k % 4])
    series = [(T_OBS[k], OBS[k]), (T_MOD[k], RUN100F[k]), (T_MOD[k], RUN100I[k])]
    for (tt, vv), st in zip(series, STYLE):
        ax.add_patch(PathPatch(tide_path(tt, vv), fill=False, edgecolor=st["edgecolor"],
                               lw=st["lw"], linestyle=st["linestyle"]))
    ax.autoscale_view()
    ax.set_xlim(mdates.date2num(START), mdates.date2num(END))
    ax.xaxis.set_major_locator(mdates.DayLocator(bymonthday=range(1, 32, 2)))
    ax.xaxis.set_major_formatter(FuncFormatter(date_fmt))
    ax.set_title(TITLES[k], fontsize=12)
    if k % 2 == 0:
        ax.set_ylabel("Elevation (m)", fontsize=10)
    if k == 0:
        handles = [Line2D([], [], color=st["edgecolor"], lw=st["lw"], ls=st["linestyle"], label=st["label"])
                   for st in STYLE]
        ax.legend(handles=handles, loc="upper right", fontsize=10)

fig.savefig("out.png", facecolor="white")
